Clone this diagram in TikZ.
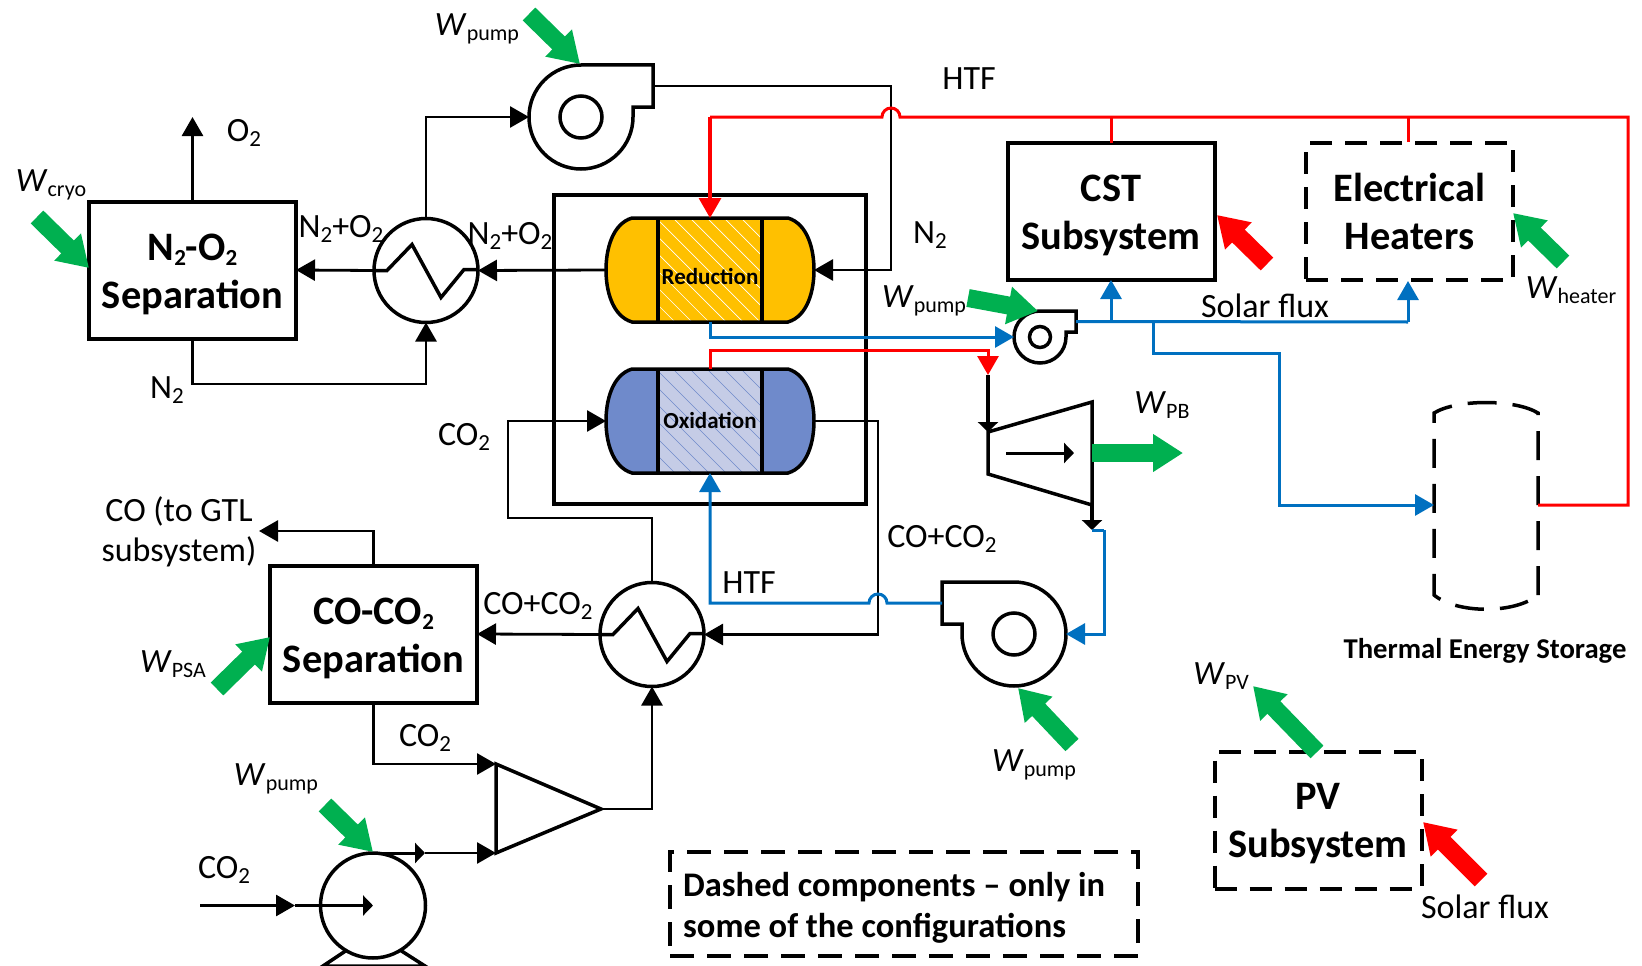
\documentclass[tikz,border=0pt]{standalone}
\usepackage{fontspec}
\setmainfont{Carlito}
\usetikzlibrary{arrows.meta}
\definecolor{htfblue}{HTML}{0070C0}
\definecolor{workgreen}{HTML}{00B050}
\definecolor{redorange}{HTML}{FFC000}
\definecolor{oxiblue}{HTML}{6F8ACB}
\definecolor{oxibed}{HTML}{C5CCE6}
\newcommand{\wlabel}[1]{\textit{W}\raisebox{-5pt}{\fontsize{22}{24}\selectfont #1}}
\newcommand{\lowsub}[1]{\raisebox{-5pt}{\fontsize{23}{24}\selectfont #1}}
\newcommand{\fanpump}[5]{
\node [circle,minimum size=#4*104,inner sep=0,outer sep=0] (#1) at (#2,#3) {};
\begin{scope}[shift={(#2,#3)},scale=#4,xscale=#5]
\draw [equip] (0,-52) -- (72,-52) -- (72,-10) -- (52,-10) -- (52,0) arc (0:-270:52pt);
\draw [equip] (0,0) circle (21pt);
\coordinate (#1out) at (72,-31);
\end{scope}
}
\newcommand{\hexch}[3]{
\node [circle,draw,line width=3.5pt,minimum size=104,inner sep=0,outer sep=0] (#1) at (#2,#3) {};
\begin{scope}[shift={(#2,#3)}]
\draw [equip] (-52,0) -- (-39,0) -- (-14,-26) -- (15,27) -- (38,-1) -- (52,-1);
\end{scope}
}
\tikzset{
	equip/.style={line width=3.5pt,line join=miter},
	conn/.style={line width=2.8pt,-{Triangle[length=19pt,width=21pt]}},
	smalltip/.style={line width=3pt,-{Triangle[length=10pt,width=20pt]}},
	plain/.style={line width=2.8pt},
	blueline/.style={line width=3pt,draw=htfblue},
	redline/.style={line width=3pt,draw=red},
	work/.style={draw=workgreen,line width=18pt,-{Triangle[length=30pt,width=36pt]}},
	solar/.style={work,draw=red},
	unit/.style={draw,line width=4pt,minimum width=207,minimum height=137,outer sep=0},
	dashunit/.style={unit,dash pattern=on 22pt off 13pt},
	unittxt/.style={inner sep=0,align=center,font=\fontsize{40.4}{48}\bfseries\selectfont},
	txt/.style={font=\fontsize{34}{40}\selectfont,inner sep=0,align=center,yshift=-0.5pt},
	wtxt/.style={txt,yshift=-1.5pt},
	reactname/.style={font=\fontsize{23}{26}\bfseries\selectfont,inner sep=0},
}
\begin{document}
\begin{tikzpicture}[x=1pt,y=-1pt]
\useasboundingbox (0,0) rectangle (1642,966);

\node [unit] (sepair) at (192.5,270) {};
\node [unit] (sepco) at (373.5,634) {};
\node [unit] (cst) at (1111,211.5) {};
\node [dashunit] (heater) at (1409.5,211.5) {};
\node [dashunit] (pv) at (1318,820) {};
\node [unittxt] (sepairtxt) at (192.5,274) {N\lowsub{\bfseries 2}-O\lowsub{\bfseries 2}\\Separation};
\node [unittxt] (sepcotxt) at (373.5,638) {CO-CO\lowsub{\bfseries 2}\\Separation};
\node [unittxt] (csttxt) at (1111,215) {CST\\Subsystem};
\node [unittxt] (heatertxt) at (1409.5,211.5) {Electrical\\Heaters};
\node [unittxt] (pvtxt) at (1318,824) {PV\\Subsystem};

\node [draw,line width=4.5pt,minimum width=312,minimum height=309,outer sep=0] (frame) at (710,349.5) {};
\node [draw,line width=3.5pt,dash pattern=on 24pt off 13pt,minimum width=468,minimum height=104,outer sep=0,inner sep=0] (legend) at (904,904) {};
\node [txt,anchor=west,align=left,font=\fontsize{34.5}{41}\bfseries\selectfont] (legendtxt) at (683,907.5) {Dashed components -- only in\\some of the configurations};

% vessels
\node [minimum width=208,minimum height=104,inner sep=0,outer sep=0] (redu) at (710,270) {};
\node [minimum width=208,minimum height=104,inner sep=0,outer sep=0] (oxi) at (710,421) {};
\foreach \vy/\vcol/\bedcol/\hcol in {270/redorange/redorange/white,421/oxiblue/oxibed/oxiblue} {
	\fill [\vcol] (632,\vy-52) .. controls (612,\vy-46) and (606,\vy-20) .. (606,\vy) .. controls (606,\vy+20) and (612,\vy+46) .. (632,\vy+52)
		-- (788,\vy+52) .. controls (808,\vy+46) and (814,\vy+20) .. (814,\vy) .. controls (814,\vy-20) and (808,\vy-46) .. (788,\vy-52) -- cycle;
	\fill [\bedcol] (658,\vy-52) rectangle (762,\vy+52);
	\begin{scope}
	\clip (658,\vy-52) rectangle (762,\vy+52);
	\foreach \h in {0,17,...,221} \draw [\hcol,line width=0.7pt] (554+\h,\vy-52) -- (658+\h,\vy+52);
	\end{scope}
	\draw [equip] (632,\vy-52) .. controls (612,\vy-46) and (606,\vy-20) .. (606,\vy) .. controls (606,\vy+20) and (612,\vy+46) .. (632,\vy+52)
		-- (788,\vy+52) .. controls (808,\vy+46) and (814,\vy+20) .. (814,\vy) .. controls (814,\vy-20) and (808,\vy-46) .. (788,\vy-52) -- cycle;
	\draw [equip] (658,\vy-52) -- (658,\vy+52);
	\draw [equip] (762,\vy-52) -- (762,\vy+52);
}
\node [reactname] (redutxt) at (710,276) {Reduction};
\node [reactname] (oxitxt) at (710,420) {Oxidation};

\hexch{hxa}{426}{270.5}
\hexch{hxb}{652}{634.5}
\fanpump{fana}{581}{117}{1}{1}
\fanpump{fanb}{1040}{337}{0.5}{1}
\fanpump{fanc}{1014}{634}{1}{-1}

% turbine, compressor, pump
\coordinate (turbin) at (988,432);
\coordinate (turbout) at (1092,505);
\draw [equip] (turbin) -- (1092,402) -- (turbout) -- (988,474) -- cycle;
\draw [smalltip] (1006,453) -- (1074,453);
\coordinate (compa) at (496,764);
\coordinate (compb) at (496,853);
\coordinate (compc) at (601,809);
\draw [equip] (compa) -- (compc) -- (compb) -- cycle;
\node [circle,draw,line width=3.5pt,minimum size=105,inner sep=0,outer sep=0] (pump) at (373,905.5) {};
\draw [equip] (347,950) -- (323,966) -- (425,966) -- (400,950);

% storage
\draw [line width=3.5pt,dash pattern=on 29pt off 16pt] (1538,595) -- (1538,413) .. controls (1515,399) and (1457,399) .. (1434,413) -- (1434,595)
	.. controls (1457,614) and (1515,614) .. (1538,595);

% black streams
\draw [conn] (hxa.north) |- (fana.west);
\draw [conn] (fanaout) -| (891,200) |- (redu.east);
\draw [conn] (redu.west) -- (hxa.east);
\draw [conn] (hxa.west) -- (sepair.east);
\draw [conn] (sepair.north) -- (192.5,117);
\draw [conn] (sepair.south) |- (300,384) -| (hxa.south);
\draw [conn] (hxb.north) |- (508,518) |- (oxi.west);
\draw [plain] (oxi.east) -| (878,500);
\draw [conn] (878,500) |- (hxb.east);
\draw [conn] (hxb.west) -- (sepco.east);
\draw [conn] (sepco.north) |- (259,531);
\draw [conn] (sepco.south) |- (compa);
\draw [conn] (compc) -| (hxb.south);
\coordinate (pumptop) at (pump.north);
\coordinate (pumpmid) at (425,853);
\coordinate (co2in) at (200,905.5);
\coordinate (co2mid) at (295,905.5);
\draw [smalltip] (pumptop) -- (pumpmid);
\draw [conn] (pumpmid) -- (compb);
\draw [conn] (co2in) -- (co2mid);
\draw [smalltip] (co2mid) -- (pump.center);
\coordinate (turbfeed) at (988,375);
\coordinate (turbexit) at (1092,530);
\draw [smalltip,line width=3.5pt] (turbfeed) -- (turbin);
\draw [smalltip,line width=3.5pt] (turbout) -- (turbexit);

% HTF
\draw [blueline,-{Triangle[length=19pt,width=21pt]}] (redu.south) |- (fanb.west);
\draw [blueline] (fanbout) -- (1408,322);
\draw [blueline,-{Triangle[length=19pt,width=21pt]}] (1111,322) -- (cst.south);
\draw [blueline,-{Triangle[length=19pt,width=21pt]}] (1408,322) -- (1408,281);
\draw [blueline,-{Triangle[length=19pt,width=21pt]}] (1153,322) |- (1279,353) |- (1434,505);
\draw [blueline] (turbexit) -- (1104,530);
\draw [blueline,-{Triangle[length=19pt,width=21pt]}] (1104,530) |- (fanc.east);
\draw [blueline,-{Triangle[length=19pt,width=21pt]}] (fancout) -- (887,603) arc (0:180:9pt) -- (710,603) -- (oxi.south);

\draw [redline,-{Triangle[length=19pt,width=21pt]}] (oxi.north) |- (988,350) -- (turbfeed);
\draw [redline] (1538,505) -- (1628,505) |- (900,117) arc (0:180:9pt) -- (710,117);
\draw [redline,line width=3.2pt,-{Triangle[length=20pt,width=22pt]}] (710,117) -- (redu.north);
\draw [redline] (cst.north) -- (1111,117);
\draw [redline] (1408,142) -- (1408,117);

% power and solar arrows
\draw [work] (529,14) -- (580,64);
\draw [work] (37,217) -- (89,268);
\draw [work] (968,298) -- (1038,311);
\draw [work] (1092,453) -- (1183,453);
\draw [work] (1563,262) -- (1513,213);
\draw [work] (1072,745) -- (1018,688);
\draw [work] (217,689) -- (270,637);
\draw [work] (325,805) -- (373,852);
\draw [work] (1317,752) -- (1253,686);
\draw [solar] (1267,264) -- (1217,215);
\draw [solar] (1481,880) -- (1423,822);

% labels
\node [wtxt] (wfana) at (477,27) {\wlabel{pump}};
\node [txt] (htfa) at (969,78) {HTF};
\node [txt] (otwo) at (244,132) {O\lowsub{2}};
\node [wtxt] (wcryo) at (51,183) {\wlabel{cryo}};
\node [txt] (airl) at (341,228) {N\lowsub{2}+O\lowsub{2}};
\node [txt] (airr) at (510,235) {N\lowsub{2}+O\lowsub{2}};
\node [txt] (ntwoa) at (930,235) {N\lowsub{2}};
\node [wtxt] (wfanb) at (924,299) {\wlabel{pump}};
\node [txt] (solara) at (1265,305) {Solar flux};
\node [wtxt] (wheat) at (1571,288) {\wlabel{heater}};
\node [txt] (ntwob) at (167,390) {N\lowsub{2}};
\node [wtxt] (wpb) at (1162,403) {\wlabel{PB}};
\node [txt] (cotwoa) at (464,436) {CO\lowsub{2}};
\node [txt] (togtl) at (179,531) {CO (to GTL\\subsystem)};
\node [txt] (mixa) at (942,538) {CO+CO\lowsub{2}};
\node [txt] (htfb) at (749,582) {HTF};
\node [txt] (mixb) at (538,605) {CO+CO\lowsub{2}};
\node [wtxt] (wpsa) at (173,662) {\wlabel{PSA}};
\node [txt] (cotwob) at (425,737) {CO\lowsub{2}};
\node [wtxt] (wpump) at (276,777) {\wlabel{pump}};
\node [txt] (cotwoc) at (224,869) {CO\lowsub{2}};
\node [wtxt] (wfanc) at (1034,763) {\wlabel{pump}};
\node [wtxt] (wpv) at (1221,674) {\wlabel{PV}};
\node [txt,font=\fontsize{28.7}{30}\bfseries\selectfont] (testxt) at (1485,650) {Thermal Energy Storage};
\node [txt] (solarb) at (1485,906) {Solar flux};
\end{tikzpicture}
\end{document}
